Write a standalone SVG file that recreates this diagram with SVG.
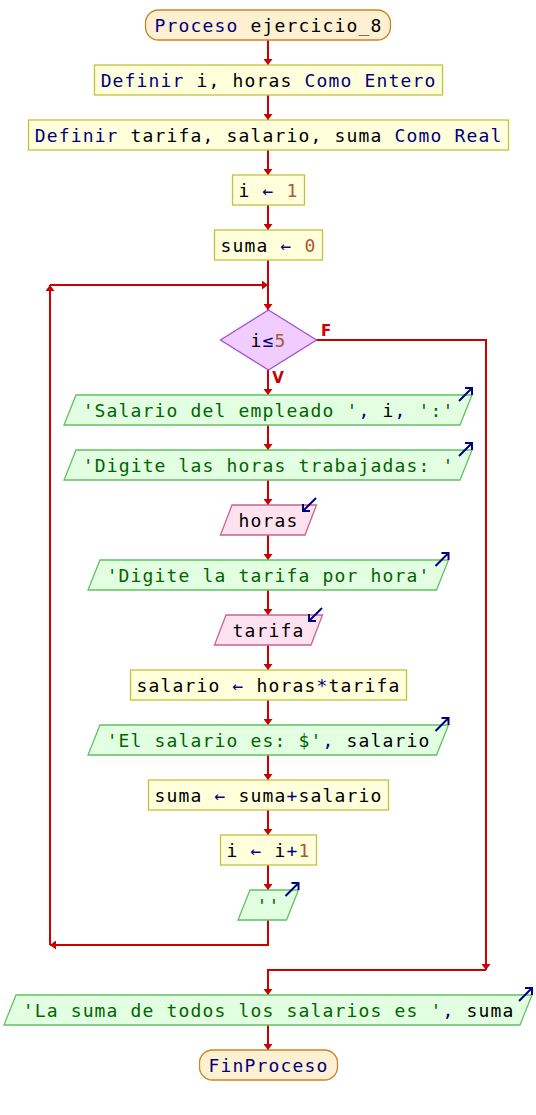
<svg xmlns="http://www.w3.org/2000/svg" width="536" height="1115" viewBox="0 0 536 1115">
<style>
text{font-family:"DejaVu Sans Mono","Liberation Mono",monospace;font-size:18px;letter-spacing:1.16px;text-anchor:middle;fill:#000}
.k{fill:#000080}
.s{fill:#006400}
.n{fill:#a85a32}
.o{fill:#000080}
.term{fill:#fff0d2;stroke:#c8852a;stroke-width:1.3}
.proc{fill:#ffffdc;stroke:#c4c03c;stroke-width:1.3}
.dec{fill:#f0ccff;stroke:#a050d8;stroke-width:1.3}
.out{fill:#e2ffe2;stroke:#62c062;stroke-width:1.3}
.in{fill:#ffe2f0;stroke:#c86488;stroke-width:1.3}
.icon{fill:none;stroke:#000080;stroke-width:2}
.c{fill:none;stroke:#cc0000;stroke-width:2}
.lbl{font-family:"DejaVu Sans","Liberation Sans",sans-serif;font-size:15px;font-weight:bold;fill:#cc0000;letter-spacing:0}
</style>
<defs>
<marker id="ah" viewBox="0 0 6 9" refX="6" refY="4.5" markerWidth="6" markerHeight="9" orient="auto" markerUnits="userSpaceOnUse">
<path d="M0,0 L6,4.5 L0,9 z" fill="#cc0000"/>
</marker>
</defs>

<g id="connectors">
<path class="c" d="M268,40 V65" marker-end="url(#ah)"/>
<path class="c" d="M268,95 V120" marker-end="url(#ah)"/>
<path class="c" d="M268,150 V175" marker-end="url(#ah)"/>
<path class="c" d="M268,205 V230" marker-end="url(#ah)"/>
<path class="c" d="M268,260 V310" marker-end="url(#ah)"/>
<path class="c" d="M50,285 H268" marker-end="url(#ah)"/>
<path class="c" d="M268,370 V395" marker-end="url(#ah)"/>
<path class="c" d="M268,425 V450" marker-end="url(#ah)"/>
<path class="c" d="M268,480 V505" marker-end="url(#ah)"/>
<path class="c" d="M268,535 V560" marker-end="url(#ah)"/>
<path class="c" d="M268,590 V615" marker-end="url(#ah)"/>
<path class="c" d="M268,645 V670" marker-end="url(#ah)"/>
<path class="c" d="M268,700 V725" marker-end="url(#ah)"/>
<path class="c" d="M268,755 V780" marker-end="url(#ah)"/>
<path class="c" d="M268,810 V835" marker-end="url(#ah)"/>
<path class="c" d="M268,865 V890" marker-end="url(#ah)"/>
<path class="c" d="M268,920 V945 H50" marker-end="url(#ah)"/>
<path class="c" d="M50,945 V285" marker-end="url(#ah)"/>
<path class="c" d="M316,340 H486 V970" marker-end="url(#ah)"/>
<path class="c" d="M486,970 H268 V995" marker-end="url(#ah)"/>
<path class="c" d="M268,1025 V1050" marker-end="url(#ah)"/>
<text class="lbl" x="326" y="336">F</text>
<text class="lbl" x="278" y="383">V</text>
</g>

<g id="start">
<rect class="term" x="145.5" y="10" width="245" height="30" rx="13"/>
<text x="268.6" y="32"><tspan class="k">Proceso</tspan> ejercicio_8</text>
</g>

<g id="def1">
<rect class="proc" x="94.5" y="65" width="348" height="30"/>
<text x="268.6" y="87"><tspan class="k">Definir</tspan> i, horas <tspan class="k">Como Entero</tspan></text>
</g>

<g id="def2">
<rect class="proc" x="28.5" y="120" width="480" height="30"/>
<text x="268.6" y="142"><tspan class="k">Definir</tspan> tarifa, salario, suma <tspan class="k">Como Real</tspan></text>
</g>

<g id="assign_i">
<rect class="proc" x="232.5" y="175" width="72" height="30"/>
<text x="268.6" y="197">i <tspan class="o">←</tspan> <tspan class="n">1</tspan></text>
</g>

<g id="assign_suma">
<rect class="proc" x="214.5" y="230" width="108" height="30"/>
<text x="268.6" y="252">suma <tspan class="o">←</tspan> <tspan class="n">0</tspan></text>
</g>

<g id="cond">
<polygon class="dec" points="268.5,310 316.5,340 268.5,370 220.5,340"/>
<text x="268.6" y="347">i<tspan class="o">≤</tspan><tspan class="n">5</tspan></text>
</g>

<g id="out1">
<polygon class="out" points="76,395 472,395 460,425 64,425"/>
<text x="268.6" y="417"><tspan class="s">'Salario del empleado '</tspan><tspan class="o">,</tspan> i<tspan class="o">,</tspan> <tspan class="s">':'</tspan></text>
<path class="icon" d="M459,401 L472,388 M465,388 H472 V395"/>
</g>

<g id="out2">
<polygon class="out" points="76,450 472,450 460,480 64,480"/>
<text x="268.6" y="472"><tspan class="s">'Digite las horas trabajadas: '</tspan></text>
<path class="icon" d="M459,456 L472,443 M465,443 H472 V450"/>
</g>

<g id="in_horas">
<polygon class="in" points="232,505 316.5,505 305,535 220.5,535"/>
<text x="268.6" y="527">horas</text>
<path class="icon" d="M316,498 L303,511 M303,504 V511 H310"/>
</g>

<g id="out3">
<polygon class="out" points="100,560 448.5,560 436.5,590 88,590"/>
<text x="268.6" y="582"><tspan class="s">'Digite la tarifa por hora'</tspan></text>
<path class="icon" d="M435.5,566 L448.5,553 M441.5,553 H448.5 V560"/>
</g>

<g id="in_tarifa">
<polygon class="in" points="226,615 322.5,615 311,645 214.5,645"/>
<text x="268.6" y="637">tarifa</text>
<path class="icon" d="M322,608 L309,621 M309,614 V621 H316"/>
</g>

<g id="calc_salario">
<rect class="proc" x="130.5" y="670" width="276" height="30"/>
<text x="268.6" y="692">salario <tspan class="o">←</tspan> horas<tspan class="o">*</tspan>tarifa</text>
</g>

<g id="out4">
<polygon class="out" points="100,725 448.5,725 436.5,755 88,755"/>
<text x="268.6" y="747"><tspan class="s">'El salario es: $'</tspan><tspan class="o">,</tspan> salario</text>
<path class="icon" d="M435.5,731 L448.5,718 M441.5,718 H448.5 V725"/>
</g>

<g id="calc_suma">
<rect class="proc" x="148.5" y="780" width="240" height="30"/>
<text x="268.6" y="802">suma <tspan class="o">←</tspan> suma<tspan class="o">+</tspan>salario</text>
</g>

<g id="inc_i">
<rect class="proc" x="220.5" y="835" width="96" height="30"/>
<text x="268.6" y="857">i <tspan class="o">←</tspan> i<tspan class="o">+</tspan><tspan class="n">1</tspan></text>
</g>

<g id="out_blank">
<polygon class="out" points="250,890 298.5,890 286.5,920 238,920"/>
<text x="268.6" y="912"><tspan class="s">''</tspan></text>
<path class="icon" d="M285.5,896 L298.5,883 M291.5,883 H298.5 V890"/>
</g>

<g id="out_final">
<polygon class="out" points="16,995 532,995 520,1025 4,1025"/>
<text x="268.6" y="1017"><tspan class="s">'La suma de todos los salarios es '</tspan><tspan class="o">,</tspan> suma</text>
<path class="icon" d="M519,1001 L532,988 M525,988 H532 V995"/>
</g>

<g id="end">
<rect class="term" x="199.5" y="1050" width="138" height="30" rx="13"/>
<text x="268.6" y="1072"><tspan class="k">FinProceso</tspan></text>
</g>
</svg>
